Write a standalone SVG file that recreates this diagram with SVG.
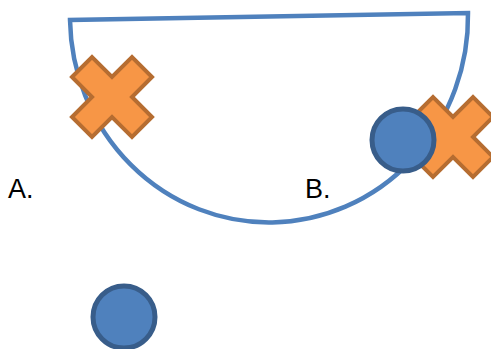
<svg xmlns="http://www.w3.org/2000/svg" width="491" height="349" viewBox="0 0 491 349">
<style>
.bowl{fill:none;stroke:#4F81BD;stroke-width:4.5;stroke-linejoin:miter}
.cross{fill:#F79646;stroke:#B66D31;stroke-width:4;stroke-linejoin:miter}
.dot{fill:#4F81BD;stroke:#385D8A;stroke-width:5}
.lbl{font-family:"Liberation Sans",Arial,sans-serif;font-size:27px;fill:#000}
</style>
<defs>
<polygon id="x" points="-40,-20 -20,-40 0,-20 20,-40 40,-20 20,0 40,20 20,40 0,20 -20,40 -40,20 -20,0"/>
</defs>
<g id="connectors">
<path class="bowl" d="M70,20 A199,206 0 0 0 468,13 Z"/>
</g>
<g id="crossA"><use href="#x" class="cross" transform="translate(112,97)"/></g>
<g id="crossB"><use href="#x" class="cross" transform="translate(453,137)"/></g>
<g id="circleB"><circle class="dot" cx="403" cy="140" r="31"/></g>
<g id="circleBottom"><circle class="dot" cx="124" cy="317" r="31"/></g>
<g id="labelA"><text class="lbl" x="8" y="198">A.</text></g>
<g id="labelB"><text class="lbl" x="305" y="198">B.</text></g>
</svg>
